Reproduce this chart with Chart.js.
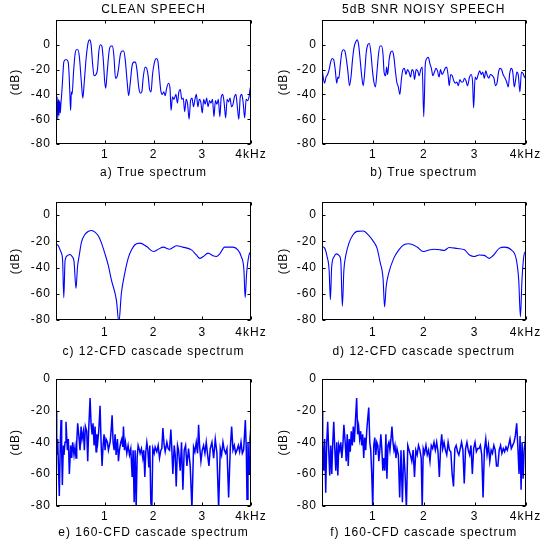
<!DOCTYPE html>
<html>
<head>
<meta charset="utf-8">
<title>Speech spectra</title>
<script src="https://cdn.jsdelivr.net/npm/chart.js@4"></script>
<style>
  html, body { margin: 0; padding: 0; background: #fff; overflow: hidden; }
  #wrap { position: relative; width: 541px; height: 550px; }
  canvas { position: absolute; }
</style>
</head>
<body>
<div id="wrap">
  <canvas id="pa" width="270" height="185" style="left:0;top:0"></canvas>
  <canvas id="pb" width="271" height="185" style="left:270px;top:0"></canvas>
  <canvas id="pc" width="270" height="180" style="left:0;top:185px"></canvas>
  <canvas id="pd" width="271" height="180" style="left:270px;top:185px"></canvas>
  <canvas id="pe" width="270" height="185" style="left:0;top:365px"></canvas>
  <canvas id="pf" width="271" height="185" style="left:270px;top:365px"></canvas>
</div>
<script>
// column titles, captions and ticks
const columnTitles = ["CLEAN SPEECH", "5dB SNR NOISY SPEECH"];
const captions = [
  "a) True spectrum", "b) True spectrum",
  "c) 12-CFD cascade spectrum", "d) 12-CFD cascade spectrum",
  "e) 160-CFD cascade spectrum", "f) 160-CFD cascade spectrum"
];
const xTickValues = [1000, 2000, 3000, 4000];
const xTickLabels = ["1", "2", "3", "4kHz"];
const yTickValues = [-80, -60, -40, -20, 0];

// a) clean speech, true spectrum (Hz, dB)
const freqA = [0, 12, 24, 36, 50, 62, 75, 88, 100, 120,
  140, 160, 190, 220, 250, 270, 285, 300, 315, 330,
  360, 390, 420, 450, 480, 520, 550, 580, 620, 660,
  690, 720, 750, 780, 820, 850, 880, 910, 940, 970,
  1000, 1020, 1050, 1090, 1130, 1160, 1190, 1220, 1250, 1280,
  1320, 1360, 1390, 1420, 1460, 1490, 1520, 1560, 1600, 1630,
  1660, 1700, 1730, 1760, 1790, 1830, 1860, 1890, 1920, 1950,
  1980, 2020, 2060, 2090, 2120, 2150, 2180, 2210, 2240, 2270,
  2310, 2340, 2360, 2390, 2420, 2460, 2490, 2520, 2550, 2580,
  2610, 2640, 2670, 2700, 2730, 2760, 2790, 2820, 2850, 2880,
  2910, 2940, 2970, 3000, 3030, 3060, 3090, 3120, 3150, 3180,
  3210, 3240, 3270, 3300, 3330, 3360, 3390, 3420, 3450, 3480,
  3510, 3540, 3570, 3600, 3630, 3660, 3690, 3720, 3750, 3780,
  3810, 3840, 3870, 3900, 3930, 3960, 3980, 4000];
const dbA = [-45, -58, -42, -60, -44, -57, -45, -55, -48, -38,
  -25, -14, -12, -12, -14, -25, -40, -53, -38, -40,
  -22, -8, -4, -4, -10, -30, -43, -30, -10, 2,
  4, 0, -15, -25, -24, -20, -5, 0, -1, -12,
  -30, -35, -22, -5, -1, -1, -10, -27, -26, -20,
  -8, -5, -5, -12, -30, -41, -32, -17, -14, -14,
  -20, -35, -39, -38, -26, -18, -19, -25, -36, -38,
  -24, -14, -11, -13, -25, -37, -40, -38, -41, -35,
  -31, -36, -53, -42, -44, -40, -47, -38, -36, -44,
  -43, -54, -44, -48, -60, -45, -43, -50, -44, -40,
  -50, -44, -46, -55, -44, -48, -43, -50, -45, -47,
  -44, -58, -45, -48, -44, -58, -42, -40, -47, -59,
  -44, -46, -43, -50, -48, -42, -40, -50, -60, -42,
  -40, -47, -59, -44, -45, -42, -36, -32];

// b) noisy speech, true spectrum
const freqB = [0, 20, 50, 80, 110, 140, 170, 200, 230, 260,
  290, 310, 330, 360, 390, 420, 450, 480, 510, 540,
  570, 600, 630, 660, 690, 720, 750, 780, 810, 840,
  870, 900, 930, 960, 990, 1020, 1050, 1080, 1110, 1140,
  1170, 1200, 1220, 1250, 1270, 1290, 1320, 1350, 1380, 1410,
  1440, 1470, 1500, 1530, 1560, 1590, 1620, 1650, 1680, 1710,
  1740, 1770, 1800, 1820, 1850, 1880, 1910, 1940, 1970, 2000,
  2030, 2060, 2090, 2120, 2150, 2180, 2210, 2240, 2270, 2300,
  2330, 2360, 2390, 2420, 2450, 2480, 2500, 2530, 2560, 2590,
  2620, 2650, 2680, 2710, 2740, 2770, 2800, 2830, 2860, 2900,
  2930, 2960, 2980, 3010, 3040, 3070, 3100, 3130, 3160, 3190,
  3220, 3250, 3280, 3310, 3350, 3380, 3410, 3440, 3470, 3500,
  3530, 3560, 3600, 3630, 3660, 3690, 3720, 3750, 3780, 3800,
  3830, 3860, 3890, 3920, 3950, 3980, 4000];
const dbB = [-19, -25, -31, -26, -24, -20, -14, -11, -12, -20,
  -31, -26, -27, -16, -6, -4, -5, -12, -22, -33,
  -26, -12, -2, 2, 4, 0, -12, -25, -33, -22,
  -6, 0, 1, -6, -20, -30, -34, -22, -8, -1,
  -1, -8, -22, -25, -18, -24, -12, -6, -5, -9,
  -20, -30, -34, -40, -28, -20, -19, -24, -20, -22,
  -26, -20, -22, -28, -20, -21, -25, -20, -18, -58,
  -16, -11, -10, -15, -19, -25, -22, -19, -21, -26,
  -20, -24, -22, -19, -18, -25, -33, -24, -25, -29,
  -31, -30, -33, -28, -30, -30, -27, -29, -33, -26,
  -24, -30, -51, -26, -28, -24, -21, -24, -22, -27,
  -21, -25, -27, -24, -25, -27, -33, -31, -22, -19,
  -20, -24, -27, -30, -34, -23, -19, -22, -34, -30,
  -22, -25, -38, -22, -23, -26, -27];

// c) clean speech, 12-CFD cascade
const freqC = [0, 50, 100, 135, 160, 185, 230, 280, 330, 370,
  410, 440, 480, 520, 590, 660, 730, 800, 870, 930,
  1000, 1070, 1140, 1240, 1290, 1340, 1410, 1480, 1550, 1620,
  1720, 1860, 2000, 2100, 2200, 2330, 2470, 2600, 2780, 2880,
  2950, 3020, 3120, 3220, 3290, 3360, 3460, 3630, 3730, 3800,
  3855, 3880, 3910, 3960, 4000];
const dbC = [-22, -23.5, -28, -34, -63, -35, -31, -30, -31.5, -35.5,
  -56, -40, -30, -21, -15, -12.5, -11.7, -13, -16, -21,
  -29, -38, -50, -65, -82, -60, -44.5, -33, -26.5, -22.6,
  -21.4, -24, -27.8, -26, -24.4, -26, -23.4, -24.4, -26.5, -30.4,
  -33, -31.6, -29, -31, -31.6, -29.5, -24.4, -24.4, -26.5, -31.6,
  -42, -63, -44.5, -30.4, -27.8];

// d) noisy speech, 12-CFD cascade
const freqD = [0, 50, 100, 140, 165, 190, 240, 280, 340, 370,
  400, 430, 470, 530, 610, 690, 810, 910, 1010, 1080,
  1140, 1200, 1230, 1260, 1310, 1410, 1510, 1610, 1710, 1870,
  1990, 2070, 2200, 2330, 2400, 2500, 2660, 2800, 2900, 2990,
  3090, 3190, 3290, 3360, 3490, 3590, 3720, 3820, 3867, 3900,
  3930, 3970, 4000];
const dbD = [-24, -25, -31.6, -42, -64.5, -39.4, -31.6, -29.6, -31, -35.5,
  -69.5, -42, -30.4, -21.4, -15, -12.4, -12.1, -15, -20, -25,
  -35.5, -48.4, -70, -55, -44.5, -33, -26.5, -22.6, -21.9, -24.4,
  -27.8, -27, -26, -26.5, -27, -24.7, -25.5, -26.5, -30.4, -31.6,
  -30.4, -30.7, -33, -31, -25.2, -24.4, -26.5, -34, -49.7, -77.5,
  -50, -30.4, -27.8];

// e) clean speech, 160-CFD cascade
const freqE = [0, 14, 34, 55, 68, 89, 103, 116, 130, 151,
  164, 185, 205, 233, 253, 274, 301, 322, 342, 370,
  390, 411, 425, 445, 466, 493, 514, 534, 562, 582,
  603, 630, 651, 671, 699, 719, 740, 760, 781, 801,
  822, 836, 856, 877, 904, 925, 945, 966, 986, 1007,
  1027, 1055, 1075, 1110, 1130, 1151, 1171, 1192, 1212, 1233,
  1260, 1281, 1301, 1329, 1349, 1370, 1384, 1404, 1425, 1452,
  1479, 1507, 1534, 1562, 1582, 1603, 1623, 1644, 1664, 1685,
  1712, 1726, 1753, 1781, 1801, 1822, 1842, 1863, 1884, 1904,
  1925, 1945, 1966, 1986, 2014, 2034, 2068, 2096, 2123, 2151,
  2171, 2192, 2219, 2240, 2274, 2301, 2329, 2356, 2377, 2397,
  2425, 2445, 2466, 2493, 2514, 2548, 2575, 2603, 2630, 2658,
  2685, 2719, 2753, 2788, 2822, 2849, 2877, 2904, 2925, 2945,
  2973, 3000, 3027, 3055, 3082, 3110, 3137, 3164, 3199, 3233,
  3267, 3301, 3336, 3370, 3397, 3425, 3452, 3479, 3507, 3541,
  3575, 3603, 3630, 3658, 3685, 3712, 3740, 3767, 3795, 3822,
  3849, 3884, 3904, 3918, 3938, 3959, 3979, 3993, 4000];
const dbE = [-20, -48, -38, -60, -74, -40, -26, -45, -67, -42,
  -48, -40, -27, -45, -38, -60, -42, -50, -40, -48,
  -43, -50, -40, -28, -35, -45, -30, -38, -33, -45,
  -30, -33, -52, -32, -12, -28, -35, -28, -42, -30,
  -46, -35, -40, -33, -17, -40, -55, -42, -35, -45,
  -38, -40, -45, -40, -33, -23, -40, -45, -35, -48,
  -38, -52, -45, -40, -38, -43, -30, -45, -40, -47,
  -42, -48, -44, -62, -45, -78, -45, -82, -50, -42,
  -45, -47, -44, -50, -45, -62, -46, -40, -45, -56,
  -42, -78, -82, -44, -47, -43, -46, -42, -50, -45,
  -44, -31, -42, -46, -40, -44, -45, -32, -45, -60,
  -42, -48, -68, -42, -45, -58, -40, -70, -45, -42,
  -55, -44, -55, -82, -43, -46, -40, -47, -29, -42,
  -52, -45, -42, -47, -40, -48, -55, -44, -40, -50,
  -38, -47, -82, -44, -48, -40, -45, -47, -44, -75,
  -44, -30, -45, -42, -47, -45, -42, -46, -40, -47,
  -45, -26, -45, -76, -40, -60, -38, -32, -44];

// f) noisy speech, 160-CFD cascade
const freqF = [0, 13, 33, 53, 73, 93, 112, 132, 152, 172,
  192, 212, 231, 251, 271, 291, 311, 330, 350, 370,
  390, 410, 430, 456, 476, 496, 516, 535, 555, 575,
  595, 615, 635, 654, 681, 701, 720, 740, 760, 780,
  800, 820, 839, 859, 879, 899, 919, 939, 958, 978,
  998, 1018, 1038, 1058, 1077, 1097, 1117, 1137, 1157, 1177,
  1196, 1216, 1236, 1256, 1276, 1296, 1315, 1335, 1355, 1375,
  1395, 1415, 1434, 1454, 1474, 1501, 1527, 1553, 1580, 1606,
  1633, 1659, 1686, 1712, 1738, 1765, 1791, 1818, 1844, 1871,
  1897, 1924, 1950, 1970, 1990, 2016, 2043, 2069, 2095, 2122,
  2148, 2175, 2201, 2228, 2254, 2280, 2307, 2333, 2353, 2373,
  2399, 2426, 2452, 2479, 2505, 2532, 2558, 2585, 2611, 2637,
  2664, 2690, 2717, 2743, 2770, 2796, 2822, 2849, 2875, 2902,
  2928, 2955, 2981, 3008, 3034, 3060, 3087, 3113, 3140, 3166,
  3192, 3219, 3245, 3272, 3298, 3325, 3351, 3378, 3404, 3430,
  3457, 3483, 3510, 3536, 3563, 3589, 3616, 3642, 3668, 3695,
  3721, 3748, 3774, 3800, 3827, 3853, 3873, 3893, 3913, 3933,
  3953, 3973, 3993, 4000];
const dbF = [-20, -40, -58, -38, -72, -40, -27, -45, -61, -42,
  -60, -40, -27, -44, -58, -40, -61, -42, -45, -40,
  -50, -42, -29, -40, -52, -35, -55, -38, -46, -33,
  -42, -30, -40, -28, -12, -35, -30, -38, -33, -42,
  -35, -50, -37, -45, -33, -25, -18, -40, -45, -60,
  -82, -42, -37, -48, -40, -42, -52, -45, -35, -45,
  -58, -50, -58, -35, -63, -42, -40, -45, -38, -30,
  -40, -45, -42, -50, -44, -48, -75, -45, -78, -45,
  -60, -82, -42, -45, -48, -52, -45, -62, -45, -48,
  -42, -45, -50, -82, -44, -47, -42, -48, -45, -52,
  -42, -44, -40, -45, -40, -46, -62, -42, -35, -44,
  -40, -45, -48, -40, -45, -46, -60, -68, -44, -42,
  -46, -48, -44, -40, -45, -66, -44, -40, -45, -48,
  -42, -60, -44, -40, -46, -44, -44, -42, -48, -75,
  -45, -38, -48, -42, -52, -45, -47, -42, -45, -55,
  -55, -45, -42, -47, -44, -46, -43, -45, -42, -38,
  -44, -42, -40, -36, -28, -45, -60, -36, -70, -40,
  -63, -45, -40, -36];

const fontFamily = '"Liberation Sans", Arial, Helvetica, sans-serif';
const textFont = { family: fontFamily, size: 12, weight: "normal", lineHeight: 1.2 };

// wider letter spacing, like the old figure fonts
const spacing = {
  id: "spacing",
  beforeUpdate(chart) { chart.ctx.letterSpacing = "1px"; },
  beforeDraw(chart) { chart.ctx.letterSpacing = "1px"; }
};

// box round the plot with inward tick marks on all four sides
const frame = {
  id: "frame",
  afterDatasetsDraw(chart) {
    const { ctx, chartArea: a, scales: { x, y } } = chart;
    const L = Math.round(a.left) + 0.5, R = Math.round(a.right) - 0.5;
    const T = Math.round(a.top) + 0.5, B = Math.round(a.bottom) - 0.5;
    ctx.save();
    ctx.strokeStyle = "#000";
    ctx.lineWidth = 1;
    ctx.strokeRect(L, T, R - L, B - T);
    ctx.beginPath();
    x.ticks.forEach((t) => {
      const px = Math.round(x.getPixelForValue(t.value)) + 0.5;
      ctx.moveTo(px, B); ctx.lineTo(px, B - 3);
      ctx.moveTo(px, T); ctx.lineTo(px, T + 3);
    });
    y.ticks.forEach((t) => {
      const py = Math.round(y.getPixelForValue(t.value)) + 0.5;
      ctx.moveTo(L, py); ctx.lineTo(L + 3, py);
      ctx.moveTo(R, py); ctx.lineTo(R - 3, py);
    });
    ctx.stroke();
    ctx.restore();
  }
};

const panels = [
  { id: "pa", freq: freqA, db: dbA, ymax: 20, title: columnTitles[0], caption: captions[0], smooth: true, lw: 1.1,
    padTop: 0, padRight: 19, yWidth: 56, yTitlePad: 8.3, xHeight: 41, tickPad: 3.8, capPad: 4.8 },
  { id: "pb", freq: freqB, db: dbB, ymax: 20, title: columnTitles[1], caption: captions[1], smooth: true, lw: 1.1,
    padTop: 0, padRight: 15.5, yWidth: 52, yTitlePad: 6.8, xHeight: 41, tickPad: 3.8, capPad: 4.8 },
  { id: "pc", freq: freqC, db: dbC, ymax: 10, title: "", caption: captions[2], smooth: true, lw: 1.1,
    padTop: 17, padRight: 19, yWidth: 56, yTitlePad: 8.3, xHeight: 45, tickPad: 5.3, capPad: 6.3 },
  { id: "pd", freq: freqD, db: dbD, ymax: 10, title: "", caption: captions[3], smooth: true, lw: 1.1,
    padTop: 17, padRight: 15.5, yWidth: 52, yTitlePad: 6.8, xHeight: 45, tickPad: 5.3, capPad: 6.3 },
  { id: "pe", freq: freqE, db: dbE, ymax: 0, title: "", caption: captions[4], smooth: false, lw: 1.5,
    padTop: 14, padRight: 19, yWidth: 56, yTitlePad: 8.3, xHeight: 44.5, tickPad: 3.6, capPad: 10.1 },
  { id: "pf", freq: freqF, db: dbF, ymax: 0, title: "", caption: captions[5], smooth: false, lw: 1.5,
    padTop: 14, padRight: 15.5, yWidth: 52, yTitlePad: 6.8, xHeight: 44.5, tickPad: 3.6, capPad: 10.1 }
];

function buildChart(p) {
  return new Chart(document.getElementById(p.id), {
    type: "line",
    data: {
      datasets: [{
        data: p.freq.map((f, i) => ({ x: f, y: p.db[i] })),
        borderColor: "#0000ff",
        borderWidth: p.lw,
        pointRadius: 0,
        tension: 0,
        cubicInterpolationMode: p.smooth ? "monotone" : "default",
        fill: false
      }]
    },
    options: {
      responsive: false,
      animation: false,
      devicePixelRatio: 1,
      layout: { padding: { left: 0, right: p.padRight, top: p.padTop, bottom: 0 } },
      plugins: {
        legend: { display: false },
        tooltip: { enabled: false },
        title: {
          display: !!p.title,
          text: p.title,
          fullSize: false,
          color: "#000",
          font: textFont,
          padding: { top: 2.8, bottom: 2.8 }
        }
      },
      scales: {
        x: {
          type: "linear",
          min: 0,
          max: 4000,
          grid: { display: false, drawTicks: false },
          border: { display: false },
          afterBuildTicks: (s) => { s.ticks = xTickValues.map((v) => ({ value: v })); },
          ticks: {
            autoSkip: false,
            maxRotation: 0,
            padding: p.tickPad,
            color: "#000",
            font: textFont,
            callback: (v) => xTickLabels[xTickValues.indexOf(v)]
          },
          title: {
            display: true,
            text: p.caption,
            color: "#000",
            font: textFont,
            padding: { top: 0, bottom: p.capPad }
          },
          afterFit: (s) => { s.height = p.xHeight; s.paddingLeft = 0; s.paddingRight = 0; }
        },
        y: {
          min: -80,
          max: p.ymax,
          grid: { display: false, drawTicks: false },
          border: { display: false },
          afterBuildTicks: (s) => { s.ticks = yTickValues.map((v) => ({ value: v })); },
          ticks: { padding: 5, color: "#000", font: textFont },
          title: {
            display: true,
            text: "(dB)",
            color: "#000",
            font: textFont,
            padding: { top: p.yTitlePad, bottom: 0 }
          },
          afterFit: (s) => { s.width = p.yWidth; s.paddingTop = 0; s.paddingBottom = 0; }
        }
      }
    },
    plugins: [spacing, frame]
  });
}

panels.forEach(buildChart);
</script>
</body>
</html>
